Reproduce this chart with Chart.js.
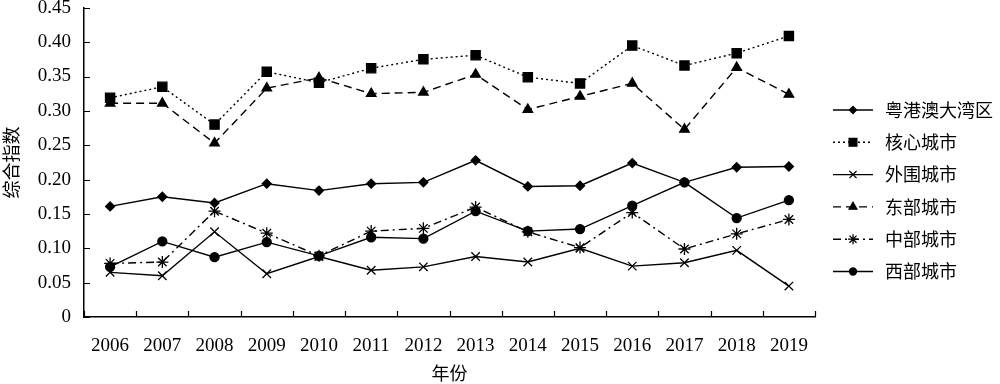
<!DOCTYPE html>
<html>
<head>
<meta charset="utf-8">
<script src="https://cdn.jsdelivr.net/npm/chart.js@4/dist/chart.umd.min.js"></script>
<style>
  html, body { margin: 0; padding: 0; background: #fff; }
  #wrap { width: 1000px; height: 384px; }
</style>
</head>
<body>
<div id="wrap"><canvas id="chart"></canvas></div>
<script>
var years = ['2006', '2007', '2008', '2009', '2010', '2011', '2012',
             '2013', '2014', '2015', '2016', '2017', '2018', '2019'];

var seriesNames = ['粤港澳大湾区', '核心城市', '外围城市', '东部城市', '中部城市', '西部城市'];

var gba     = [0.161, 0.175, 0.166, 0.194, 0.184, 0.194, 0.196, 0.228, 0.190, 0.191, 0.224, 0.196, 0.218, 0.219];
var core    = [0.319, 0.335, 0.280, 0.357, 0.341, 0.362, 0.375, 0.381, 0.349, 0.340, 0.395, 0.366, 0.384, 0.409];
var outer   = [0.065, 0.060, 0.124, 0.063, 0.088, 0.068, 0.073, 0.088, 0.080, 0.100, 0.074, 0.079, 0.097, 0.045];
var east    = [0.311, 0.311, 0.253, 0.333, 0.348, 0.325, 0.327, 0.353, 0.302, 0.321, 0.340, 0.273, 0.363, 0.324];
var central = [0.078, 0.080, 0.154, 0.122, 0.089, 0.125, 0.129, 0.160, 0.124, 0.101, 0.152, 0.099, 0.121, 0.142];
var west    = [0.073, 0.110, 0.087, 0.109, 0.089, 0.116, 0.114, 0.154, 0.125, 0.128, 0.162, 0.196, 0.144, 0.170];

var yTicks = [0, 0.05, 0.10, 0.15, 0.20, 0.25, 0.30, 0.35, 0.40, 0.45];

var serif = "'Liberation Serif', 'DejaVu Serif', serif";
var cjk = "'Noto Sans CJK SC', sans-serif";

function makeSet(label, data, style, radius, dash) {
    return {
        label: label,
        data: data,
        borderColor: '#000',
        backgroundColor: '#000',
        borderWidth: 1.4,
        borderDash: dash,
        pointStyle: style,
        pointRadius: radius,
        pointHoverRadius: radius,
        pointBorderColor: '#000',
        pointBackgroundColor: '#000',
        pointBorderWidth: 1.3,
        tension: 0,
        fill: false
    };
}

// inward tick marks on both axes
var innerTicks = {
    id: 'innerTicks',
    afterDraw: function(chart) {
        var ctx = chart.ctx;
        var x = chart.scales.x, y = chart.scales.y;
        ctx.save();
        ctx.strokeStyle = '#000';
        ctx.lineWidth = 1.2;
        ctx.beginPath();
        yTicks.forEach(function(v) {
            var py = Math.round(y.getPixelForValue(v)) + 0.5;
            ctx.moveTo(x.left, py);
            ctx.lineTo(x.left + 6, py);
        });
        var half = (x.getPixelForValue(1) - x.getPixelForValue(0)) / 2;
        for (var i = 0; i <= years.length; i++) {
            var px = Math.round(x.getPixelForValue(i) - half) + 0.5;
            ctx.moveTo(px, y.bottom);
            ctx.lineTo(px, y.bottom - 6);
        }
        ctx.stroke();
        ctx.restore();
    }
};

// legend with line sample + marker, like the original
var sideLegend = {
    id: 'sideLegend',
    afterDraw: function(chart) {
        var ctx = chart.ctx;
        var area = chart.chartArea;
        var x0 = area.right + 18;
        ctx.save();
        chart.data.datasets.forEach(function(ds, i) {
            var yy = 110 + i * 32.3;
            ctx.strokeStyle = '#000';
            ctx.lineWidth = ds.borderWidth;
            ctx.setLineDash(ds.borderDash || []);
            ctx.beginPath();
            ctx.moveTo(x0, yy);
            ctx.lineTo(x0 + 40, yy);
            ctx.stroke();
            ctx.setLineDash([]);
            ctx.fillStyle = '#000';
            ctx.lineWidth = ds.pointBorderWidth;
            Chart.helpers.drawPoint(ctx, {
                pointStyle: ds.pointStyle,
                radius: ds.pointRadius - 1,
                rotation: 0,
                borderWidth: ds.pointBorderWidth
            }, x0 + 20, yy);
            ctx.font = '18px ' + cjk;
            ctx.textBaseline = 'middle';
            ctx.textAlign = 'left';
            ctx.fillText(ds.label, x0 + 52, yy);
        });
        ctx.restore();
    }
};

new Chart(document.getElementById('chart'), {
    type: 'line',
    data: {
        labels: years,
        datasets: [
            makeSet(seriesNames[0], gba, 'rectRot', 4.5, []),
            makeSet(seriesNames[1], core, 'rect', 6.5, [2, 3]),
            makeSet(seriesNames[2], outer, 'crossRot', 6, []),
            makeSet(seriesNames[3], east, 'triangle', 5.5, [8, 5]),
            makeSet(seriesNames[4], central, 'star', 6, [8, 4, 2, 4]),
            makeSet(seriesNames[5], west, 'circle', 4.5, [])
        ]
    },
    options: {
        responsive: true,
        maintainAspectRatio: false,
        animation: false,
        layout: { padding: { top: 5, right: 185, left: 0, bottom: 0 } },
        plugins: {
            legend: { display: false },
            tooltip: { enabled: false }
        },
        scales: {
            x: {
                type: 'category',
                offset: true,
                afterFit: function(scale) {
                    scale.height = 67;
                    scale.paddingLeft = 0;
                    scale.paddingRight = 0;
                },
                grid: { display: true, drawOnChartArea: false, drawTicks: false, offset: true },
                border: { display: true, color: '#000', width: 1.5 },
                ticks: {
                    color: '#000',
                    padding: 18,
                    maxRotation: 0,
                    autoSkip: false,
                    font: { family: serif, size: 19 }
                },
                title: {
                    display: true,
                    text: '年份',
                    color: '#000',
                    padding: { top: 4, bottom: 0 },
                    font: { family: cjk, size: 18 }
                }
            },
            y: {
                min: 0,
                max: 0.45,
                afterFit: function(scale) {
                    scale.width = 84;
                    scale.paddingTop = 0;
                    scale.paddingBottom = 0;
                },
                afterBuildTicks: function(scale) {
                    scale.ticks = yTicks.map(function(v) { return { value: v }; });
                },
                grid: { display: true, drawOnChartArea: false, drawTicks: false },
                border: { display: true, color: '#000', width: 1.5 },
                ticks: {
                    color: '#000',
                    padding: 13,
                    font: { family: serif, size: 19 },
                    callback: function(v) { return v === 0 ? '0' : v.toFixed(2); }
                },
                title: {
                    display: true,
                    text: '综合指数',
                    color: '#000',
                    padding: { top: 0, bottom: 0 },
                    font: { family: cjk, size: 18 }
                }
            }
        }
    },
    plugins: [innerTicks, sideLegend]
});
</script>
</body>
</html>
